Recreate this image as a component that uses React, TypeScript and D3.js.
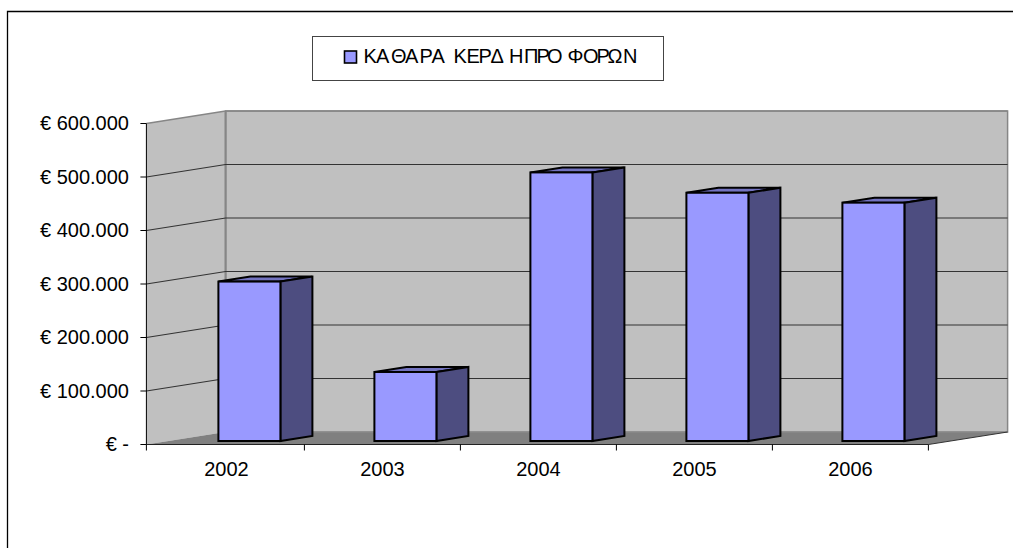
import React from "react";
import * as d3 from "d3";

const years = ["2002", "2003", "2004", "2005", "2006"];
const profits = [298000, 129000, 502000, 464000, 445500];
const axisValues = [0, 100000, 200000, 300000, 400000, 500000, 600000];
const axisLabels = ["€ -", "€ 100.000", "€ 200.000", "€ 300.000", "€ 400.000", "€ 500.000", "€ 600.000"];
const legendLabel = "ΚΑΘΑΡΑ ΚΕΡΔΗ ΠΡΟ ΦΟΡΩΝ";

const W = 1013, H = 548;
const FONT = "'Liberation Sans', Arial, sans-serif";
const x0 = 146.4, x1 = 928.4, yBase = 444.5, yTop = 123.5;
const depthX = 79.2, depthY = -12.5;
const barW = 62, barDX = 32, barDY = -5;
// the source renderer's uneven glyph placement in the legend
const legendGlyphX = "363.4 376 391 405 419.5 431.5 445 453.4 466.4 478.5 490.5 509 522 524 536.5 547 564 567.5 583 596.5 607.5 623";

const y = d3.scaleLinear().domain([0, 600000]).range([yBase, yTop]);
const x = d3.scaleBand<string>().domain(years).range([148.4, x1]).padding(0);
const poly = (p: number[][]) => p.map((q) => q.join(",")).join(" ");

export default function App() {
  const bw = x.bandwidth();
  const backL = x0 + depthX, backR = x1 + depthX;
  return (
    <svg width={W} height={H} viewBox={`0 0 ${W} ${H}`} style={{ position: "fixed", left: 0, top: 0, background: "#fff" }} fontFamily={FONT}>
      <path d={`M7.5 548V11.5H1013`} fill="none" stroke="#000" strokeWidth={1.3} />

      {/* walls */}
      <polygon points={poly([[x0, yBase], [x0, yTop], [backL, yTop + depthY], [backL, yBase + depthY]])} fill="#c0c0c0" />
      <rect x={backL} y={yTop + depthY} width={backR - backL} height={yBase - yTop} fill="#c0c0c0" stroke="#868686" strokeWidth={1.5} />
      <polygon points={poly([[x0, yBase], [backL, yBase + depthY], [backR, yBase + depthY], [x1, yBase]])} fill="#808080" />
      <path d={`M${backL} ${yTop + depthY}V${yBase + depthY}`} stroke="#868686" strokeWidth={2} />
      <path d={`M${backL} ${yBase + depthY}H${backR}`} stroke="#8e8e8e" strokeWidth={1} />

      {/* grid lines */}
      {axisValues.slice(1).map((v, i) => (
        <path key={v} d={`M${x0} ${y(v)}L${backL} ${y(v) + depthY}H${backR}`} fill="none"
          stroke={i === axisValues.length - 2 ? "#868686" : "#333"} strokeWidth={i === axisValues.length - 2 ? 1.5 : 1.2} />
      ))}

      {/* axes */}
      <path d={`M${x0} ${yTop}V${yBase}`} stroke="#000" strokeWidth={1} />
      <path d={`M${x0} ${yBase}H${x1}`} stroke="#222" strokeWidth={1.2} />
      <path d={`M${x1} ${yBase}L${backR} ${yBase + depthY}`} stroke="#333" strokeWidth={1} />
      {axisValues.map((v, i) => (
        <g key={v}>
          <path d={`M${x0 - 6} ${y(v)}H${x0}`} stroke="#000" strokeWidth={1} />
          <text x={129} y={y(v) + 6.5} textAnchor="end" fontSize={20} fill="#000">{axisLabels[i]}</text>
        </g>
      ))}
      {[x0, ...years.slice(1).map((c) => x(c)!), x1].map((t) => (
        <path key={t} d={`M${t} ${yBase}v6`} stroke="#000" strokeWidth={1} />
      ))}
      {years.map((c) => (
        <text key={c} x={x(c)! + bw / 2} y={476} textAnchor="middle" fontSize={20} fill="#000">{c}</text>
      ))}

      {/* bars */}
      {years.map((c, i) => {
        const left = x(c)! + (bw - barW) / 2 + 23;
        const right = left + barW;
        const bottom = yBase - 3.5;
        const top = bottom - (yBase - y(profits[i]));
        return (
          <g key={c} stroke="#000" strokeWidth={2} strokeLinejoin="miter">
            <polygon points={poly([[left, top], [left + barDX, top + barDY], [right + barDX, top + barDY], [right, top]])} fill="#7373c0" />
            <polygon points={poly([[right, top], [right + barDX, top + barDY], [right + barDX, bottom + barDY], [right, bottom]])} fill="#4d4d80" />
            <rect x={left} y={top} width={barW} height={bottom - top} fill="#9999ff" />
          </g>
        );
      })}

      {/* legend */}
      <rect x={312.5} y={36.5} width={351} height={44} fill="#fff" stroke="#444" strokeWidth={1} />
      <rect x={344.5} y={51} width={12} height={12} fill="#9999ff" stroke="#000" strokeWidth={1.6} />
      <text x={legendGlyphX} y={63} fontSize={20} fill="#000">{legendLabel}</text>
    </svg>
  );
}
